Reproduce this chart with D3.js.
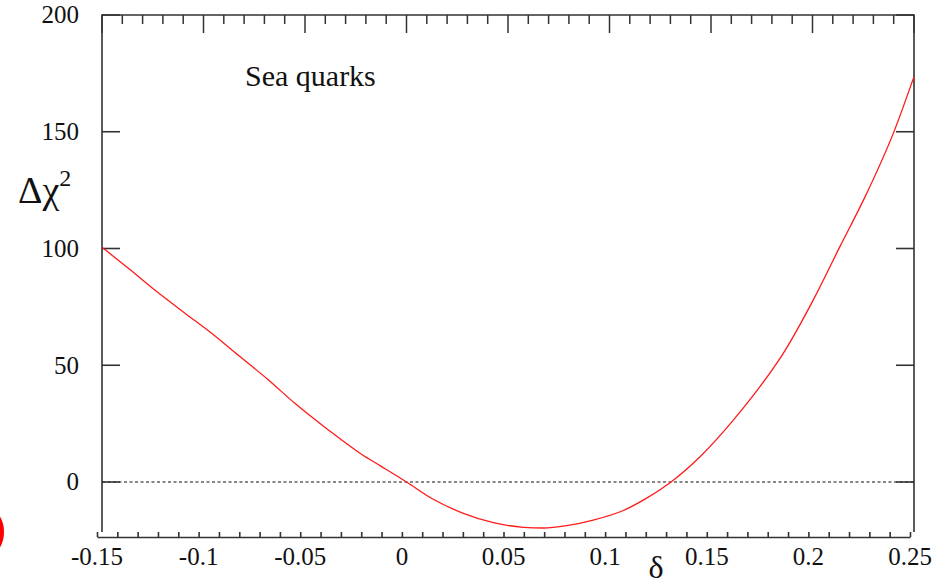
<!DOCTYPE html>
<html>
<head>
<meta charset="utf-8">
<script src="https://cdn.jsdelivr.net/npm/d3@7"></script>
<style>
  body { margin: 0; background: #fff; }
  svg { display: block; }
  text { font-family: "Liberation Serif", "Times New Roman", serif; fill: #111; }
</style>
</head>
<body>
<svg width="937" height="585"></svg>
<script>
// delta values and the delta chi^2
var deltaVals = [-0.15, -0.137, -0.124, -0.109, -0.096, -0.083, -0.068, -0.055, -0.0385, -0.022, -0.013, 0.0,
  0.0132, 0.028, 0.0428, 0.0576, 0.0675, 0.0789, 0.092, 0.1068, 0.1183, 0.1249, 0.1303,
  0.1446, 0.161, 0.1741, 0.1856, 0.2004, 0.2135, 0.2267, 0.2398, 0.25]
var chi2Vals = [100.5, 91.5, 82.2, 72.2, 63.7, 54.4, 43.7, 33.7, 22.3, 11.8, 7.0, 0,
  -7.4, -13.4, -17.4, -19.4, -19.7, -18.7, -16.3, -12.2, -6.9, -3.3, 0,
  10.8, 26.5, 40.8, 55.1, 78, 100.8, 123.6, 149.3, 173.6]

var xTickLabels = ["-0.15", "-0.1", "-0.05", "0", "0.05", "0.1", "0.15", "0.2", "0.25"]
var yTickLabels = ["0", "50", "100", "150", "200"]
var curveLabel = "Sea quarks"

var svg = d3.select("svg")

var x = d3.scaleLinear().domain([-0.15, 0.25]).range([102, 914])   // frame
var xb = d3.scaleLinear().domain([-0.15, 0.25]).range([97, 910])   // bottom axis, drawn a bit off the frame
var y = d3.scaleLinear().domain([0, 200]).range([482, 15])
var frameBottom = 532, axisY = 537

var minorX = d3.range(-15, 26).map(function(i) { return i / 100 })
var majorX = xTickLabels.map(Number)
var majorY = yTickLabels.map(Number)

var ink = "#333"

// dotted zero line
svg.append("line")
  .attr("x1", x(-0.15)).attr("x2", x(0.25))
  .attr("y1", y(0)).attr("y2", y(0))
  .attr("stroke", "#111").attr("stroke-width", 1.1)
  .attr("stroke-dasharray", "3,2.5")

// frame (no bottom side)
svg.append("path")
  .attr("d", "M" + x(-0.15) + "," + frameBottom + "V" + y(200) + "H" + x(0.25) + "V" + frameBottom)
  .attr("fill", "none").attr("stroke", ink).attr("stroke-width", 1.6)

// top ticks
svg.append("g").selectAll("line")
  .data(minorX)
  .join("line")
  .attr("x1", d => x(d)).attr("x2", d => x(d))
  .attr("y1", y(200))
  .attr("y2", d => y(200) + (majorX.some(m => Math.abs(m - d) < 1e-9) ? 18 : 9))
  .attr("stroke", ink).attr("stroke-width", 1.5)

// left + right ticks
svg.append("g").selectAll("line")
  .data(majorY)
  .join("line")
  .attr("x1", x(-0.15)).attr("x2", x(-0.15) + 18)
  .attr("y1", d => y(d)).attr("y2", d => y(d))
  .attr("stroke", ink).attr("stroke-width", 1.6)
svg.append("g").selectAll("line")
  .data(majorY)
  .join("line")
  .attr("x1", x(0.25)).attr("x2", x(0.25) - 18)
  .attr("y1", d => y(d)).attr("y2", d => y(d))
  .attr("stroke", ink).attr("stroke-width", 1.6)

// bottom axis
var bottom = svg.append("g").attr("transform", "translate(0," + axisY + ")")
bottom.call(d3.axisTop(xb).tickValues(minorX).tickSize(5).tickSizeOuter(0).tickFormat(""))
bottom.selectAll("path, line").attr("stroke", ink).attr("stroke-width", 1.6)

svg.append("g").selectAll("text")
  .data(xTickLabels)
  .join("text")
  .attr("x", d => xb(+d))
  .attr("y", 565)
  .attr("text-anchor", "middle")
  .attr("font-size", 25)
  .text(d => d)

svg.append("g").selectAll("text")
  .data(yTickLabels)
  .join("text")
  .attr("x", 79)
  .attr("y", d => y(+d))
  .attr("dy", "0.33em")
  .attr("text-anchor", "end")
  .attr("font-size", 25)
  .text(d => d)

// curve
var line = d3.line()
  .x(function(d, i) { return x(deltaVals[i]) })
  .y(function(d) { return y(d) })
  .curve(d3.curveMonotoneX)

svg.append("path")
  .datum(chi2Vals)
  .attr("fill", "none")
  .attr("stroke", "#ff1a1a")
  .attr("stroke-width", 1.3)
  .attr("stroke-linejoin", "round")
  .attr("d", line)

// labels
svg.append("text")
  .attr("x", 245).attr("y", 86)
  .attr("font-size", 30)
  .text(curveLabel)

var yl = svg.append("text").attr("x", 18).attr("y", 203).attr("font-size", 38)
yl.append("tspan").text("Δχ")
yl.append("tspan").attr("font-size", 24).attr("dy", -17).text("2")

svg.append("text")
  .attr("x", 656).attr("y", 578)
  .attr("text-anchor", "middle")
  .attr("font-size", 32)
  .text("δ")

// red ring sticking in from the left edge
svg.append("circle")
  .attr("cx", -27).attr("cy", 532).attr("r", 28)
  .attr("fill", "none").attr("stroke", "#ff0000").attr("stroke-width", 6)
</script>
</body>
</html>
